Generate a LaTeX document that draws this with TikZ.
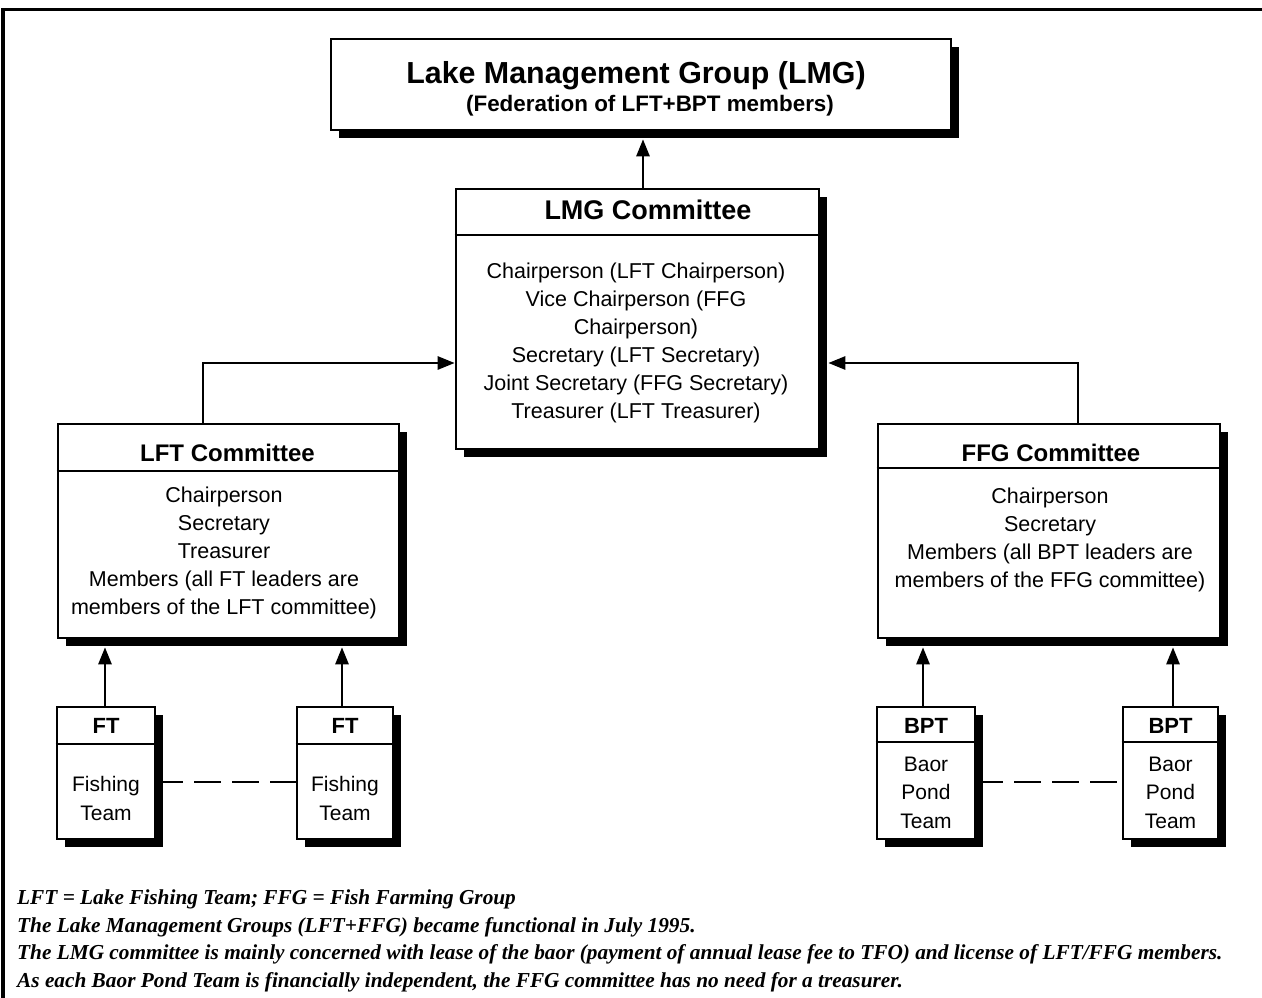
\documentclass[tikz,border=0pt]{standalone}
\usepackage{fontspec}
\setmainfont{Liberation Sans}
\newfontfamily\notefont{Liberation Serif}
\usetikzlibrary{arrows.meta,shadows}

\begin{document}
\begin{tikzpicture}[x=1pt,y=-1pt,
  orgbox/.style={draw, line width=2.6pt, fill=white, inner sep=0pt,
    drop shadow={shadow xshift=8pt, shadow yshift=-8pt, opacity=1, fill=black}},
  divider/.style={line width=2.2pt},
  headtext/.style={anchor=base, inner sep=0pt, font=\bfseries\fontsize{24}{28}\selectfont},
  bodytext/.style={align=center, inner sep=0pt, font=\fontsize{21.5}{28}\selectfont},
  link/.style={line width=2.6pt, -{Triangle[length=17pt,width=13pt]}},
  teamlink/.style={line width=2.4pt, dash pattern=on 27pt off 11pt}]

\useasboundingbox (0,0) rectangle (1262,998);

% outer frame (top and left rules only)
\draw[line width=3.2pt] (1262,9.5) -- (3,9.5) -- (3,998);

% ---- Lake Management Group ----
\node[orgbox, minimum width=620pt, minimum height=91pt] (lmg) at (641,84.5) {};
\node[anchor=base, inner sep=0pt, font=\bfseries\fontsize{30.4}{36}\selectfont] (lmgtitle) at (636,84) {Lake Management Group (LMG)};
\node[anchor=base, inner sep=0pt, font=\bfseries\fontsize{22.4}{27}\selectfont] (lmgsub) at (650,111) {(Federation of LFT+BPT members)};

% ---- LMG Committee ----
\node[orgbox, minimum width=363pt, minimum height=260pt] (lmgc) at (637.5,319) {};
\draw[divider] ([yshift=-47pt]lmgc.north west) -- ([yshift=-47pt]lmgc.north east);
\node[headtext, font=\bfseries\fontsize{27}{32}\selectfont] (lmgchead) at (648,219) {LMG Committee};
\node[bodytext] (lmgcbody) at (636,343) {Chairperson (LFT Chairperson)\\Vice Chairperson (FFG\\Chairperson)\\Secretary (LFT Secretary)\\Joint Secretary (FFG Secretary)\\Treasurer (LFT Treasurer)};

% ---- LFT Committee ----
\node[orgbox, minimum width=341pt, minimum height=214pt] (lftc) at (228.5,531) {};
\draw[divider] ([yshift=-48pt]lftc.north west) -- ([yshift=-48pt]lftc.north east);
\node[headtext] (lftchead) at (227.5,461) {LFT Committee};
\node[bodytext] (lftcbody) at (224,553) {Chairperson\\Secretary\\Treasurer\\Members (all FT leaders are\\members of the LFT committee)};

% ---- FFG Committee ----
\node[orgbox, minimum width=342pt, minimum height=214pt] (ffgc) at (1049,531) {};
\draw[divider] ([yshift=-45pt]ffgc.north west) -- ([yshift=-45pt]ffgc.north east);
\node[headtext] (ffgchead) at (1051,461) {FFG Committee};
\node[bodytext] (ffgcbody) at (1050,540) {Chairperson\\Secretary\\Members (all BPT leaders are\\members of the FFG committee)};

% ---- Fishing Teams ----
\node[orgbox, minimum width=98pt, minimum height=132pt] (ft1) at (106,773) {};
\draw[divider] ([yshift=-38pt]ft1.north west) -- ([yshift=-38pt]ft1.north east);
\node[headtext, font=\bfseries\fontsize{22}{26}\selectfont] (ft1head) at (106,733) {FT};
\node[bodytext, font=\fontsize{21}{29}\selectfont] (ft1body) at (106,798) {Fishing\\Team};

\node[orgbox, minimum width=96pt, minimum height=132pt] (ft2) at (345,773) {};
\draw[divider] ([yshift=-38pt]ft2.north west) -- ([yshift=-38pt]ft2.north east);
\node[headtext, font=\bfseries\fontsize{22}{26}\selectfont] (ft2head) at (345,733) {FT};
\node[bodytext, font=\fontsize{21}{29}\selectfont] (ft2body) at (345,798) {Fishing\\Team};

% ---- Baor Pond Teams ----
\node[orgbox, minimum width=98pt, minimum height=132pt] (bpt1) at (926,773) {};
\draw[divider] ([yshift=-36pt]bpt1.north west) -- ([yshift=-36pt]bpt1.north east);
\node[headtext, font=\bfseries\fontsize{22}{26}\selectfont] (bpt1head) at (926,733) {BPT};
\node[bodytext, font=\fontsize{21}{28.5}\selectfont] (bpt1body) at (926,792.5) {Baor\\Pond\\Team};

\node[orgbox, minimum width=95pt, minimum height=132pt] (bpt2) at (1170.5,773) {};
\draw[divider] ([yshift=-36pt]bpt2.north west) -- ([yshift=-36pt]bpt2.north east);
\node[headtext, font=\bfseries\fontsize{22}{26}\selectfont] (bpt2head) at (1170.5,733) {BPT};
\node[bodytext, font=\fontsize{21}{28.5}\selectfont] (bpt2body) at (1170.5,792.5) {Baor\\Pond\\Team};

% ---- connectors (tips stop at the foot of each drop shadow) ----
\draw[link, shorten >=8pt] (lmgc.north) ++(5.5,0) coordinate (lmgcup) -- (lmgcup |- lmg.south);
\draw[link] (lftc.north) ++(-25.5,0) coordinate (lftup) |- ([yshift=-44pt]lmgc.west);
\draw[link] (ffgc.north) ++(29,0) coordinate (ffgup) |- ([shift={(8pt,-44pt)}]lmgc.east);

\draw[link, shorten >=8pt] (ft1.north) ++(-1,0) coordinate (ft1up) -- (ft1up |- lftc.south);
\draw[link, shorten >=8pt] (ft2.north) ++(-3,0) coordinate (ft2up) -- (ft2up |- lftc.south);
\draw[link, shorten >=8pt] (bpt1.north) ++(-3,0) coordinate (bpt1up) -- (bpt1up |- ffgc.south);
\draw[link, shorten >=8pt] (bpt2.north) ++(2.5,0) coordinate (bpt2up) -- (bpt2up |- ffgc.south);

\draw[teamlink] ([yshift=-9pt]ft1.east) -- ([yshift=-9pt]ft2.west);
\draw[teamlink] ([yshift=-9pt]bpt1.east) -- ([yshift=-9pt]bpt2.west);

% ---- notes ----
\node[anchor=west, align=left, inner sep=0pt,
      font=\notefont\bfseries\itshape\fontsize{21.3}{27.5}\selectfont] (notes) at (17,941)
  {LFT = Lake Fishing Team; FFG = Fish Farming Group\\
   The Lake Management Groups (LFT+FFG) became functional in July 1995.\\
   The LMG committee is mainly concerned with lease of the baor (payment of annual lease fee to TFO) and license of LFT/FFG members.\\
   As each Baor Pond Team is financially independent, the FFG committee has no need for a treasurer.};
\end{tikzpicture}
\end{document}
